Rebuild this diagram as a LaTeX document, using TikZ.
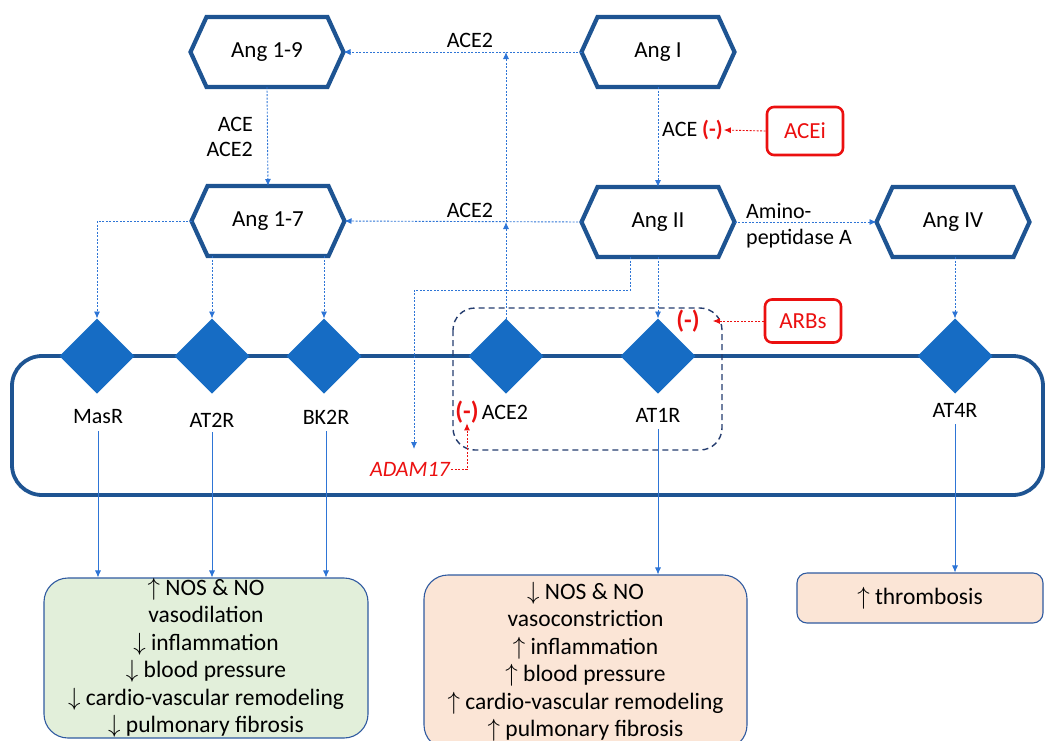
\documentclass[tikz,border=0pt]{standalone}
\usepackage{fontspec}
\setmainfont{Carlito}
\usetikzlibrary{shapes.geometric,arrows.meta}
\definecolor{hexblue}{RGB}{30,84,146}
\definecolor{diablue}{RGB}{22,108,196}
\definecolor{arrblue}{RGB}{46,117,214}
\definecolor{navy}{RGB}{36,60,110}
\definecolor{inred}{RGB}{235,16,16}
\definecolor{gfill}{RGB}{226,239,218}
\definecolor{ofill}{RGB}{251,229,214}
\definecolor{bborder}{RGB}{47,90,160}
\newcommand\hexdraw[1]{\draw[hexline] ([xshift=16]#1.north west) -- ([xshift=-16]#1.north east) -- (#1.east) -- ([xshift=-16]#1.south east) -- ([xshift=16]#1.south west) -- (#1.west) -- cycle;}
\begin{document}
\begin{tikzpicture}[x=1pt,y=-1pt,
  hexn/.style={minimum width=153, minimum height=70, inner sep=0, outer sep=0, font=\fontsize{23}{26}\selectfont},
  hexline/.style={draw=hexblue, line width=4.2, line join=miter},
  rec/.style={diamond, fill=diablue, minimum width=75, minimum height=75, inner sep=0, outer sep=0},
  flow/.style={draw=arrblue, line width=0.9, dash pattern=on 2pt off 1.5pt, -{Latex[length=7,width=6]}},
  inh/.style={draw=inred, line width=0.9, dash pattern=on 2pt off 1.5pt, -{Latex[length=7,width=6]}},
  sig/.style={draw=arrblue, line width=0.8, -{Latex[length=7,width=6]}},
  drug/.style={draw=inred, line width=2.6, rounded corners=7, minimum width=76, inner sep=0, text=inred, font=\fontsize{23}{26}\selectfont},
  lbl/.style={font=\fontsize{22}{26}\selectfont, inner sep=1},
  minus/.style={text=inred, font=\bfseries\fontsize{25}{26}\selectfont, inner sep=0},
  effbox/.style={draw=bborder, line width=1.1, rounded corners=24, inner sep=0, align=center, font=\fontsize{23.5}{27.5}\selectfont}
]
\useasboundingbox (0,0) rectangle (1045,740);
\clip (0,0) rectangle (1045,740);

% effect boxes (drawn first)
\node[effbox, fill=gfill, minimum width=324, minimum height=160] (green) at (206,658)
  {$\uparrow$ NOS \& NO\\ vasodilation\\ $\downarrow$ inflammation\\ $\downarrow$ blood pressure\\ $\downarrow$ cardio-vascular remodeling\\ $\downarrow$ pulmonary fibrosis};
\node[effbox, fill=ofill, minimum width=323, minimum height=174] (orange) at (585.5,662)
  {$\downarrow$ NOS \& NO\\ vasoconstriction\\ $\uparrow$ inflammation\\ $\uparrow$ blood pressure\\ $\uparrow$ cardio-vascular remodeling\\ $\uparrow$ pulmonary fibrosis};
\node[effbox, fill=ofill, rounded corners=10, minimum width=246, minimum height=50] (thromb) at (920,598)
  {$\uparrow$ thrombosis};

% membrane
\draw[draw=hexblue, line width=3.8, rounded corners=30] (12,356) rectangle (1043,495);

% dashed grouping box
\draw[draw=navy, line width=1.4, dash pattern=on 6pt off 4pt, rounded corners=22] (453,308) rectangle (722,450);

% hexagons
\node[hexn] (a19) at (267,52) {Ang 1-9}; \hexdraw{a19}
\node[hexn] (a1) at (658,52) {Ang I}; \hexdraw{a1}
\node[hexn] (a17) at (268,221) {Ang 1-7}; \hexdraw{a17}
\node[hexn] (a2) at (658,222) {Ang II}; \hexdraw{a2}
\node[hexn] (a4) at (953,222) {Ang IV}; \hexdraw{a4}

% receptors
\node[rec] (masr) at (97,356) {};
\node[rec] (at2r) at (212,356) {};
\node[rec] (bk2r) at (324,356) {};
\node[rec] (ace2) at (506,356) {};
\node[rec] (at1r) at (658,356) {};
\node[rec] (at4r) at (955,356) {};

\node[lbl] (masrl) at (98,417) {MasR};
\node[lbl] (at2rl) at (212,420) {AT2R};
\node[lbl] (bk2rl) at (326,417) {BK2R};
\node[lbl] (ace2l) at (505,412) {ACE2};
\node[minus] (m2) at (467,412) {(-)};
\node[lbl] (at1rl) at (658,415) {AT1R};
\node[lbl] (at4rl) at (955,410) {AT4R};

% drugs
\node[drug, minimum height=48] (acei) at (805,131) {ACEi};
\node[drug, minimum height=43] (arbs) at (803,321) {ARBs};
\node[lbl, anchor=west] (acel) at (661,130) {ACE \textcolor{inred}{\bfseries (-)}};
\node[minus] (m1) at (688,321) {(-)};
\node[lbl, text=inred, font=\itshape\fontsize{22}{26}\selectfont, anchor=east] (adam) at (451,469) {ADAM17};
\coordinate (adamtop) at (414,449);

% enzyme labels
\node[lbl] at (470,40) {ACE2};
\node[lbl] at (470,210) {ACE2};
\node[lbl, align=right, anchor=east, font=\fontsize{22}{25}\selectfont] at (254,137) {ACE\\ACE2};
\node[lbl, align=left, anchor=west, font=\fontsize{22}{26}\selectfont] at (745,226) {Amino-\\peptidase A};

% flow connectors
\draw[flow] (a1.west) -- (a19.east);
\draw[flow] (a2.west) -- (a17.east);
\draw[flow] (a19.south) -- (a17.north);
\draw[flow] (a1.south) -- (a2.north);
\draw[flow] (a2.east) -- (a4.west);
\draw[flow] (a4.south -| at4r.north) -- (at4r.north);
\draw[flow] (a2.south) -- (at1r.north);
\draw[flow] (a17.west) -| (masr.north);
\draw[flow] (a17.south -| at2r.north) -- (at2r.north);
\draw[flow] (a17.south -| bk2r.north) -- (bk2r.north);
\draw[flow] (ace2.north) -- (ace2.north |- a2.west);
\draw[flow] (ace2.north |- a2.west) -- (ace2.north |- a1.west);
\draw[flow] ([xshift=-28]a2.south) -- ++(0,33) -| (adamtop);

% inhibition connectors
\draw[inh] (acei.west) -- (acel.east);
\draw[inh] (arbs.west) -- ([xshift=13]m1.east);
\draw[inh] (adam.east) -| (m2.south);

% signalling
\draw[sig] ([yshift=-6]masrl.south) -- (masrl.south |- green.north);
\draw[sig] ([yshift=-4]at2rl.south) -- (at2rl.south |- green.north);
\draw[sig] ([yshift=-6]bk2rl.south) -- (bk2rl.south |- green.north);
\draw[sig] ([yshift=-6]at1rl.south) -- (at1rl.south |- orange.north);
\draw[sig] ([yshift=-6]at4rl.south) -- (at4rl.south |- thromb.north);
\end{tikzpicture}
\end{document}
